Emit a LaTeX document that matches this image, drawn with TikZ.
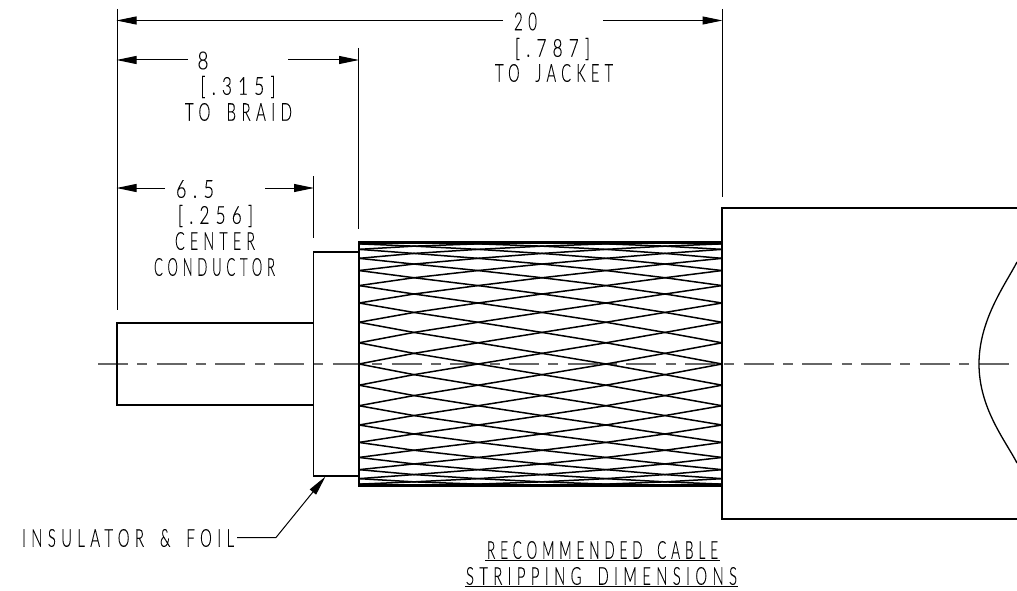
\documentclass[tikz,border=0pt]{standalone}
\usepackage{fontspec}
\usepackage{graphicx}
\usetikzlibrary{arrows.meta}
\setmainfont[LetterSpace=36,WordSpace=1.7,FakeBold=0.15]{Lato Light}
\newcommand{\fit}[2]{\resizebox{#1pt}{17.5pt}{\fontsize{24pt}{24pt}\selectfont\vphantom{H}\smash{#2}}}
\tikzset{
  outline/.style={line width=1.5pt,line join=miter,black},
  thinline/.style={line width=1pt,black},
  braid/.style={line width=1.5pt,black},
  centerline/.style={line width=1.1pt,color=black!60,dash pattern=on 30pt off 9.35pt on 10pt off 9.35pt},
  dimarrow/.style={thinline,-{Triangle[length=20pt,width=8pt]}},
  lbl/.style={inner sep=0pt,outer sep=0pt,anchor=center,black}
}
\begin{document}
\begin{tikzpicture}[x=1pt,y=-1pt]
\path[use as bounding box,fill=white] (0,0) rectangle (1017,591);

% centre line
\coordinate (clA) at (98,364);
\coordinate (clB) at (1009,364);
\draw[centerline] (clA) -- (clB);

% cable body
\draw[outline] (313.5,323) -- (117,323) -- (117,405) -- (313.5,405);
\draw[outline] (359,252) -- (313.5,252) -- (313.5,476) -- (359,476);
\draw[outline] (1017,208) -- (722,208) -- (722,519) -- (1017,519);
\draw[line width=1.3pt] (1017,262) .. controls (1005,285) and (979,320) .. (979,364)
   .. controls (979,408) and (1005,440) .. (1017,463);

% braid
\foreach \ang in {0,10,...,350}{
  \draw[braid] (359,{364-122*sin(\ang)}) -- (414,{364-122*sin(\ang+5)})
    -- (478,{364-122*sin(\ang+10)}) -- (542,{364-122*sin(\ang+15)})
    -- (606,{364-122*sin(\ang+20)}) -- (665,{364-122*sin(\ang+25)})
    -- (722,{364-122*sin(\ang+30)});
}
\draw[line width=2.6pt] (359,242.3) -- (722,242.3);
\draw[line width=2.6pt] (359,485.7) -- (722,485.7);
\draw[outline] (359,241) -- (359,487);

% extension lines
\coordinate (extL) at (117,9);
\coordinate (extLb) at (117,310);
\coordinate (extJ) at (722,9);
\coordinate (extJb) at (722,197);
\coordinate (extB) at (358.5,48);
\coordinate (extBb) at (358.5,229);
\coordinate (extC) at (313.5,176);
\coordinate (extCb) at (313.5,238);
\draw[thinline] (extL) -- (extLb);
\draw[thinline] (extJ) -- (extJb);
\draw[thinline] (extB) -- (extBb);
\draw[thinline] (extC) -- (extCb);

% dimension 20
\coordinate (a1) at (116.5,20.5);
\coordinate (a2) at (503,20.5);
\coordinate (a3) at (603,20.5);
\coordinate (a4) at (722.5,20.5);
\draw[dimarrow] (a2) -- (a1);
\draw[dimarrow] (a3) -- (a4);
\node[lbl] (t20) at (525.5,21.5) {\fit{23}{20}};
\node[lbl] (t787) at (552.5,48) {\fit{75}{[.787]}};
\node[lbl] (tjacket) at (554,73) {\fit{118}{TO JACKET}};

% dimension 8
\coordinate (b1) at (116.5,60);
\coordinate (b2) at (188,60);
\coordinate (b3) at (288,60);
\coordinate (b4) at (359,60);
\draw[dimarrow] (b2) -- (b1);
\draw[dimarrow] (b3) -- (b4);
\node[lbl] (t8) at (203,60.5) {\fit{11}{8}};
\node[lbl] (t315) at (238,86) {\fit{75}{[.315]}};
\node[lbl] (tbraid) at (238.5,112) {\fit{107}{TO BRAID}};

% dimension 6.5
\coordinate (c1) at (116.5,188);
\coordinate (c2) at (165,188);
\coordinate (c3) at (265,188);
\coordinate (c4) at (314,188);
\draw[dimarrow] (c2) -- (c1);
\draw[dimarrow] (c3) -- (c4);
\node[lbl] (t65) at (195,189) {\fit{38}{6.5}};
\node[lbl] (t256) at (215.5,215) {\fit{75}{[.256]}};
\node[lbl] (tcenter) at (215,241) {\fit{80}{CENTER}};
\node[lbl] (tcond) at (214.5,267) {\fit{121}{CONDUCTOR}};

% leader
\node[lbl] (tins) at (128,538) {\fit{212}{INSULATOR \& FOIL}};
\coordinate (l1) at (237,537.5);
\coordinate (l2) at (276,537.5);
\coordinate (l3) at (325.5,476.5);
\draw[thinline,-{Triangle[length=20pt,width=8pt]}] (l1) -- (l2) -- (l3);

% title
\node[lbl] (trec) at (602.5,550) {\fit{231}{RECOMMENDED CABLE}};
\node[lbl] (tstrip) at (601.5,576) {\fit{271}{STRIPPING DIMENSIONS}};
\coordinate (u1) at (485,560);
\coordinate (u2) at (720,560);
\coordinate (u3) at (465,586);
\coordinate (u4) at (738,586);
\draw[thinline] (u1) -- (u2);
\draw[thinline] (u3) -- (u4);
\end{tikzpicture}
\end{document}
